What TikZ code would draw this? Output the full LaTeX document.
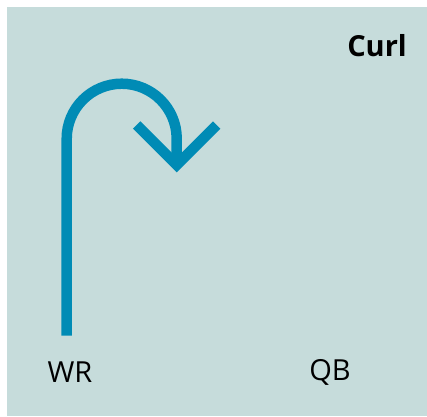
\documentclass[tikz,border=0pt]{standalone}
\usepackage{fontspec}
\setmainfont{Open Sans}
\usetikzlibrary{positioning}
\definecolor{panel}{HTML}{C6DCDB}
\definecolor{route}{HTML}{008BB5}

\begin{document}
\begin{tikzpicture}[
  x=1pt, y=1pt,
  player/.style={font=\fontsize{29}{34}\selectfont, inner sep=0pt, text=black},
  title/.style={font=\fontsize{29}{34}\selectfont\bfseries, inner sep=0pt, text=black},
  run/.style={draw=route, line width=10.5pt, line cap=butt, line join=miter},
]
\useasboundingbox (0,0) rectangle (427,416);
\fill[panel] (7,0) rectangle (427,409);

\node[title, anchor=east] (name) at (407,370) {Curl};
\node[player] (wr) at (70,44) {WR};
\node[player] (qb) at (330,44) {QB};

% receiver's route: straight up, hook back, head down
\coordinate (start) at (66.7,80.3);
\coordinate (tip) at (176.7,251);
\draw[run] (start) -- ++(0,197) arc[start angle=180, end angle=0, radius=55] -- (tip);
\draw[run] (tip) ++(-40,40) -- (tip) -- ++(40,40);
\end{tikzpicture}
\end{document}
